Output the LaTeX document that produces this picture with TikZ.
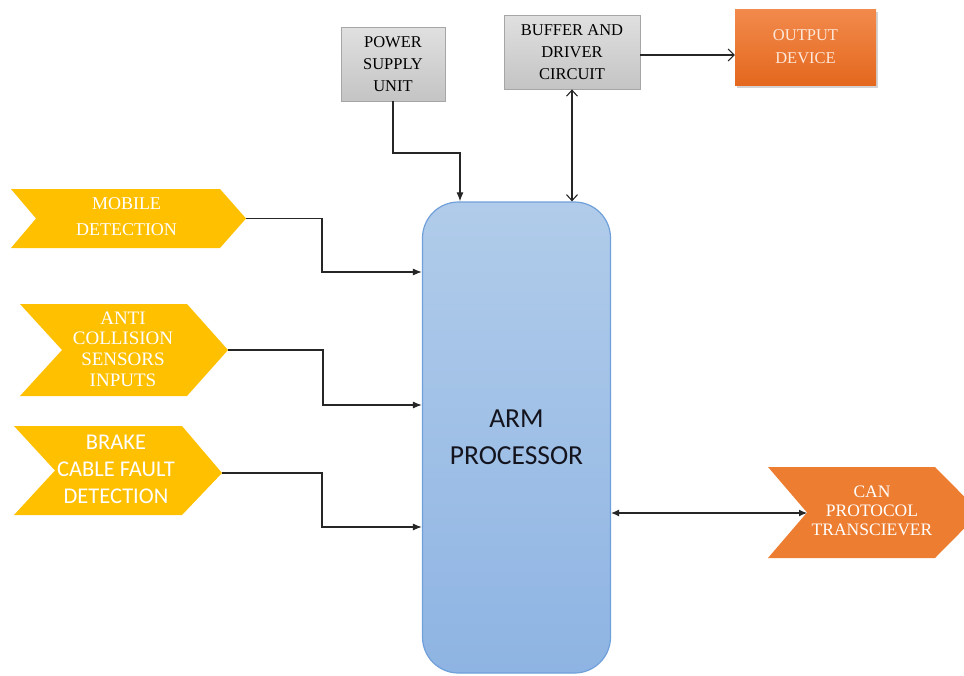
\documentclass[tikz,border=0pt]{standalone}
\usepackage{fontspec}
\setmainfont{Liberation Serif}
\newfontfamily\carl{Carlito}
\usetikzlibrary{arrows.meta,shadows}
\definecolor{gold}{HTML}{FFC000}
\definecolor{orng}{HTML}{ED7D31}
\definecolor{armtop}{HTML}{B1CCEA}
\definecolor{armbot}{HTML}{8EB4E3}
\definecolor{armline}{HTML}{6FA0DA}
\definecolor{linec}{HTML}{262626}
\definecolor{greyline}{HTML}{A6A6A6}
\definecolor{greytop}{HTML}{E0E0E0}
\definecolor{greybot}{HTML}{C4C4C4}
\definecolor{outtop}{HTML}{F28A4C}
\definecolor{outbot}{HTML}{E4681E}
\definecolor{outtext}{HTML}{FDE8DA}
\definecolor{armtext}{HTML}{14141E}
\begin{document}
\begin{tikzpicture}[x=1pt,y=-1pt,
  greybox/.style={draw=greyline, line width=0.8pt, top color=greytop, bottom color=greybot, inner sep=0pt, align=center, text=black, font=\fontsize{16.5}{22}\selectfont},
  conn/.style={draw=linec, line width=1.1pt},
  fa/.style={-{Latex[length=9pt,width=7pt]}},
  fab/.style={{Latex[length=8pt,width=7pt]}-{Latex[length=8pt,width=7pt]}},
  ob/.style={-{Straight Barb[length=6pt,width=12pt,line width=1.1pt]}},
  obb/.style={{Straight Barb[length=6pt,width=11pt,line width=1.1pt]}-{Straight Barb[length=6pt,width=11pt,line width=1.1pt]}},
  wtxt/.style={text=white, align=center, inner sep=0pt}
]
\useasboundingbox (0,0) rectangle (964,675);
\clip (0,0) rectangle (964,675);

% chevrons
\fill[gold] (11,189) -- (220,189) -- (246,218.5) -- (220,248) -- (11,248) -- (36,218.5) -- cycle;
\coordinate (mobT) at (246,218.5);
\node[wtxt, font=\fontsize{18}{26}\selectfont] (mob) at (126.5,217) {MOBILE\\DETECTION};

\fill[gold] (20,304) -- (187,304) -- (228,350) -- (187,396) -- (20,396) -- (62,350) -- cycle;
\coordinate (antiT) at (228,350);
\node[wtxt, font=\fontsize{19}{20.7}\selectfont] (anti) at (123,349) {ANTI\\COLLISION\\SENSORS\\INPUTS};

\fill[gold] (14,426) -- (182,426) -- (222,473) -- (182,515) -- (14,515) -- (55,470.5) -- cycle;
\coordinate (brakeT) at (222,473);
\node[wtxt, font=\carl\fontsize{22.5}{27}\selectfont] (brake) at (116,469) {BRAKE\\CABLE FAULT\\DETECTION};

\fill[orng] (768,467) -- (935,467) -- (980,512.5) -- (935,558) -- (768,558) -- (807,512.5) -- cycle;
\coordinate (canN) at (807,513);
\node[wtxt, font=\fontsize{17.5}{19}\selectfont] (can) at (872,511) {CAN\\PROTOCOL\\TRANSCIEVER};

% boxes
\node[greybox, minimum width=104pt, minimum height=74pt] (psu) at (393,64) {POWER\\SUPPLY\\UNIT};
\node[greybox, minimum width=136pt, minimum height=74pt] (buf) at (572,52) {BUFFER AND\\DRIVER\\CIRCUIT};
\node[drop shadow={shadow xshift=2pt, shadow yshift=-3pt, opacity=0.35}, top color=outtop, bottom color=outbot, inner sep=0pt, minimum width=141pt, minimum height=76pt, align=center, text=outtext, font=\fontsize{16.5}{23}\selectfont] (out) at (805.5,47) {OUTPUT\\DEVICE};

\node[draw=armline, line width=1.2pt, rounded corners=36pt, top color=armtop, bottom color=armbot, minimum width=188pt, minimum height=471pt, inner sep=0pt, align=center, text=armtext, font=\carl\fontsize{27.5}{37}\selectfont] (arm) at (516.5,437.5) {ARM\\PROCESSOR};

% helper coordinates
\coordinate (y1) at (0,272);
\coordinate (y2) at (0,405);
\coordinate (y3) at (0,527);
\coordinate (y4) at (0,513);
\coordinate (y5) at (0,55);
\coordinate (xp) at (460,0);

% connectors
\draw[conn, fa] (mobT) -- (322,218.5) |- (arm.west |- y1);
\draw[conn, fa] (antiT) -- (323,350) |- (arm.west |- y2);
\draw[conn, fa] (brakeT) -- (322,473) |- (arm.west |- y3);
\draw[conn, fa] (psu.south) -- (393,153) -| (arm.north -| xp);
\draw[conn, obb] (buf.south) -- (buf.south |- arm.north);
\draw[conn, ob] (buf.east |- y5) -- (out.west |- y5);
\draw[conn, fab] (arm.east |- y4) -- (canN);
\end{tikzpicture}
\end{document}
